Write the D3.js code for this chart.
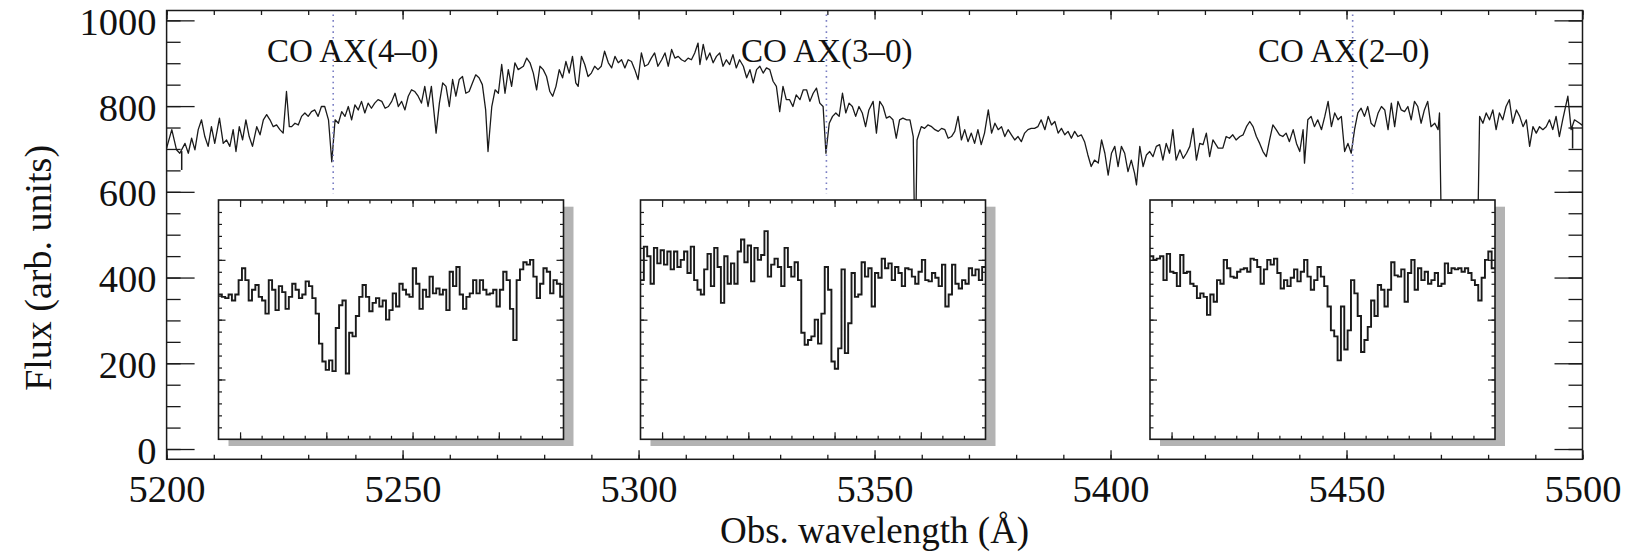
<!DOCTYPE html>
<html>
<head>
<meta charset="utf-8">
<script src="https://cdn.jsdelivr.net/npm/d3@7"></script>
<style>
  html, body { margin: 0; padding: 0; background: #fff; }
  svg { display: block; }
  text { font-family: "Liberation Serif", "Times New Roman", serif; fill: #111; }
</style>
</head>
<body>
<svg id="chart" width="1633" height="552"></svg>
<script>
// ---- Data -----------------------------------------------------------------
// Observed spectrum: [wavelength (Å), flux (arb. units)]
const spectrum = [
  [5200.0,702],[5201.1,745],[5202.1,698],[5202.8,690],[5203.9,713],[5204.6,690],[5205.3,725],[5206.0,698],
  [5206.7,745],[5207.4,768],[5208.1,729],[5208.8,706],[5209.5,752],[5210.2,713],[5211.2,772],[5212.0,713],
  [5212.7,721],[5213.4,706],[5214.1,745],[5214.7,694],[5215.4,752],[5216.1,721],[5216.8,768],[5217.5,729],
  [5218.2,706],[5219.1,752],[5219.8,733],[5220.5,768],[5221.2,780],[5221.9,768],[5222.6,752],[5223.3,756],
  [5224.0,745],[5224.7,737],[5225.4,834],[5226.0,752],[5226.5,752],[5227.2,760],[5227.9,756],[5228.6,776],
  [5229.3,784],[5230.0,776],[5230.7,787],[5231.4,791],[5232.1,776],[5232.8,799],[5233.5,799],[5234.3,768],
  [5235.0,670],[5235.7,768],[5236.4,760],[5237.1,787],[5237.8,776],[5238.5,799],[5239.2,768],[5239.9,803],
  [5240.6,791],[5241.3,811],[5242.0,784],[5242.7,807],[5243.4,795],[5244.1,807],[5244.8,815],[5245.6,811],
  [5246.3,795],[5247.0,799],[5247.7,811],[5248.4,830],[5249.1,799],[5249.8,811],[5250.5,791],[5251.2,823],
  [5251.9,838],[5252.6,834],[5253.3,823],[5254.0,807],[5254.7,846],[5255.4,799],[5256.1,846],[5257.1,737],
  [5257.8,807],[5258.5,854],[5259.2,846],[5259.9,799],[5260.6,862],[5261.3,823],[5262.0,862],[5262.7,869],
  [5263.4,830],[5264.1,834],[5264.8,854],[5265.5,873],[5266.2,866],[5266.9,850],[5267.6,791],[5268.1,694],
  [5268.9,799],[5269.6,838],[5270.3,830],[5271.0,897],[5271.7,830],[5272.4,885],[5273.1,846],[5273.8,901],
  [5274.5,885],
  [5275.6,893],[5276.3,912],[5277.0,901],[5277.7,877],[5278.4,838],[5279.1,893],[5279.8,885],[5280.5,869],
  [5281.2,834],[5281.8,823],[5282.5,846],[5283.2,885],[5283.9,866],[5284.6,904],[5285.3,877],[5286.0,916],
  [5286.7,854],[5287.2,846],[5287.9,916],[5288.6,897],[5289.3,869],[5290.0,877],[5290.7,893],[5291.4,885],
  [5292.1,893],[5292.8,928],[5293.6,901],[5294.3,889],[5295.0,916],[5295.7,901],[5296.4,908],[5297.1,889],
  [5297.8,908],[5298.5,904],[5299.2,885],[5299.9,862],[5300.6,924],[5301.3,893],[5302.0,897],[5302.7,912],
  [5303.4,924],[5304.1,893],[5304.9,908],[5305.6,924],[5306.3,893],[5307.0,932],[5307.7,912],[5308.4,916],
  [5309.1,908],[5309.8,904],[5310.5,912],[5311.2,908],[5311.9,924],[5312.6,947],[5313.0,897],[5313.7,944],
  [5314.4,908],[5315.1,924],[5315.8,901],[5316.5,916],[5317.2,924],[5317.9,893],[5318.6,908],[5319.3,897],
  [5320.0,920],[5320.7,889],[5321.4,908],[5322.2,893],[5322.9,866],[5323.6,885],[5324.3,854],[5325.0,885],
  [5325.7,893],[5326.4,877],[5327.1,889],[5327.8,885],[5328.5,858],[5329.2,846],[5329.9,787],[5330.6,846],
  [5331.3,815],[5332.0,815],[5332.7,799],[5333.4,826],[5334.2,815],[5334.9,838],[5335.6,838],[5336.3,811],
  [5337.0,830],[5337.7,842],[5338.4,807],[5339.1,799],[5339.7,690],[5340.4,760],[5341.1,776],[5341.8,784],
  [5342.5,776],[5343.2,830],[5343.9,784],[5344.6,807],[5345.3,799],[5346.0,776],[5346.7,799],[5347.4,784],
  [5348.1,752],[5348.8,791],
  [5349.7,811],[5350.4,737],[5351.1,811],[5351.8,799],[5352.5,772],[5353.2,776],[5353.9,768],[5354.6,725],
  [5355.3,768],[5356.0,772],[5356.8,768],[5357.5,768],[5358.2,729],[5358.6,420],[5359.0,721],[5359.9,752],
  [5360.6,748],[5361.3,756],[5362.1,752],[5362.8,745],[5363.5,741],[5364.2,748],[5364.9,745],[5365.6,725],
  [5366.3,729],[5367.0,741],[5367.7,776],[5368.4,721],[5369.1,745],[5369.8,717],[5370.5,737],[5371.2,713],
  [5371.9,745],[5372.6,710],[5373.3,737],[5374.1,791],[5374.8,737],[5375.5,760],[5376.2,745],[5376.9,752],
  [5377.6,729],[5378.3,745],[5379.0,733],[5379.7,721],[5380.4,729],[5381.1,717],[5381.8,737],[5382.5,745],
  [5383.2,748],[5383.9,748],[5384.6,752],[5385.3,768],[5386.1,745],[5386.8,776],[5387.5,756],[5388.2,764],
  [5388.9,737],[5389.6,748],[5390.3,733],[5391.0,741],[5391.7,725],[5392.4,741],[5393.1,729],[5393.8,733],
  [5394.5,717],[5395.2,686],[5395.9,659],[5396.6,674],[5397.4,667],[5398.1,721],[5398.8,690],[5399.5,639],
  [5400.2,690],[5400.9,706],[5401.6,659],[5402.3,706],[5403.0,690],[5403.7,647],[5404.4,674],[5405.1,643],
  [5405.5,616],[5406.2,706],[5406.9,659],[5407.6,686],[5408.3,694],[5409.0,682],[5409.7,706],[5410.4,710],
  [5411.1,674],[5411.8,713],[5412.5,690],[5413.2,745],[5413.9,674],[5414.7,698],[5415.4,678],[5416.1,690],
  [5416.8,706],[5417.5,748],[5418.2,674],[5418.9,713],[5419.6,710],[5420.3,737],[5421.0,682],[5421.7,721],
  [5422.8,702],
  [5423.8,702],[5424.5,729],[5425.2,725],[5425.9,733],[5426.6,721],[5427.4,729],[5428.1,733],[5428.8,752],
  [5429.5,764],[5430.2,752],[5430.9,729],[5431.6,713],[5432.3,694],[5433.0,682],[5433.7,721],[5434.4,756],
  [5435.1,745],[5435.8,733],[5436.5,729],[5437.2,737],[5437.9,717],[5438.7,745],[5439.4,713],[5440.1,694],
  [5440.8,745],[5441.1,667],[5441.8,768],[5442.5,776],[5443.2,752],[5443.9,768],[5444.7,745],[5445.4,776],
  [5446.1,811],[5446.8,752],[5447.5,784],[5448.2,768],[5448.9,776],[5449.6,694],[5450.3,713],[5451.0,690],
  [5451.7,745],[5452.4,784],[5453.1,795],[5453.8,776],[5454.5,799],[5455.2,760],[5455.9,752],[5456.7,784],
  [5457.4,799],[5458.1,791],[5458.8,745],[5459.5,807],[5460.2,752],[5460.9,811],[5461.6,791],[5462.3,787],
  [5463.0,799],[5463.7,768],[5464.4,811],[5465.1,799],[5465.8,760],[5466.5,791],[5467.2,811],[5467.9,752],
  [5468.7,760],[5469.4,745],[5469.7,784],[5470.4,300],[5473.6,320],[5477.5,300],[5478.2,776],[5478.9,760],
  [5479.6,784],[5480.3,768],[5481.0,791],[5481.7,745],[5482.4,784],[5483.1,768],[5483.8,799],[5484.5,815],
  [5485.2,760],[5486.0,791],[5486.7,776],[5487.4,752],[5488.1,768],[5488.8,706],[5489.5,752],[5490.2,737],
  [5490.9,752],[5491.6,745],[5492.3,752],[5493.0,768],[5493.7,745],[5494.4,776],[5495.1,729],[5495.8,768],
  [5496.9,823],[5497.6,745],[5498.3,768],[5499.4,760],[5500.0,755]
];

// Representative error bars: [wavelength, low, high]
const errorBars = [[5203.2, 651, 695], [5497.9, 701, 751]];

const waveMajor = [5200, 5250, 5300, 5350, 5400, 5450, 5500];
const waveMinor = d3.range(5200, 5501, 10);
const fluxMajor = [0, 200, 400, 600, 800, 1000];
const fluxMinor = d3.range(0, 1001, 50);

// CO A-X band heads
const bandLabels = ["CO AX(4\u20130)", "CO AX(3\u20130)", "CO AX(2\u20130)"];
const bandWaves = [5235.3, 5339.8, 5451.3];

// Zoomed windows (Å) around each band head and the normalised flux in them
const insetRanges = [[5231.5, 5239.5], [5335.5, 5343.5], [5447.5, 5455.5]];
const insetFlux4 = [
  1.21,1.19,1.18,1.21,1.16,1.21,1.33,1.43,1.33,1.16,1.25,1.29,1.19,1.16,1.05,1.33,1.25,1.08,1.28,1.23,
  1.09,1.19,1.30,1.25,1.18,1.21,1.32,1.28,1.18,1.05,0.80,0.65,0.58,0.66,0.57,0.93,1.12,1.16,0.55,0.89,
  0.86,1.03,1.19,1.29,1.19,1.07,1.14,1.18,1.11,1.16,1.00,1.08,1.22,1.11,1.30,1.25,1.21,1.19,1.43,1.30,
  1.09,1.25,1.19,1.36,1.22,1.26,1.21,1.25,1.08,1.40,1.28,1.44,1.21,1.09,1.19,1.22,1.33,1.22,1.33,1.25,
  1.21,1.22,1.25,1.11,1.25,1.40,1.33,1.09,0.83,1.33,1.42,1.48,1.46,1.50,1.36,1.18,1.30,1.43,1.40,1.22,
  1.33,1.30,1.19
];
const insetFlux3 = [
  1.33,1.61,1.53,1.30,1.60,1.47,1.58,1.46,1.57,1.42,1.57,1.44,1.50,1.57,1.39,1.61,1.33,1.25,1.21,1.42,
  1.55,1.28,1.60,1.44,1.14,1.53,1.30,1.47,1.30,1.57,1.67,1.48,1.62,1.32,1.60,1.50,1.54,1.74,1.36,1.46,
  1.51,1.44,1.28,1.60,1.44,1.36,1.48,1.33,0.89,0.79,0.83,0.86,1.00,0.80,1.05,1.44,1.25,0.65,0.59,0.76,
  1.42,0.72,0.97,1.39,1.19,1.21,1.48,1.36,1.43,1.11,1.39,1.35,1.51,1.43,1.47,1.33,1.44,1.39,1.28,1.43,
  1.42,1.36,1.30,1.40,1.50,1.33,1.32,1.39,1.35,1.28,1.46,1.11,1.21,1.46,1.30,1.26,1.33,1.30,1.43,1.37,
  1.42,1.33,1.44
];
const insetFlux2 = [
  1.53,1.50,1.51,1.53,1.33,1.55,1.40,1.39,1.28,1.54,1.39,1.40,1.30,1.28,1.18,1.22,1.19,1.04,1.21,1.15,
  1.33,1.30,1.50,1.43,1.36,1.35,1.40,1.42,1.43,1.40,1.51,1.50,1.44,1.30,1.42,1.50,1.46,1.51,1.39,1.26,
  1.33,1.28,1.35,1.42,1.32,1.40,1.50,1.36,1.25,1.33,1.44,1.36,1.28,1.11,0.91,0.86,0.66,1.11,0.75,0.91,
  1.33,1.22,1.03,0.73,0.83,0.94,1.16,1.03,1.29,1.25,1.11,1.25,1.48,1.37,1.36,1.42,1.15,1.39,1.50,1.25,
  1.43,1.33,1.40,1.30,1.33,1.39,1.28,1.30,1.47,1.39,1.43,1.42,1.43,1.40,1.43,1.39,1.33,1.29,1.16,1.35,
  1.50,1.57,1.43
];
const insetSeries = [insetFlux4, insetFlux3, insetFlux2];

// ---- Layout ---------------------------------------------------------------
const svg = d3.select("#chart");
const plot = { left: 166.6, right: 1582.5, top: 10.5, bottom: 459.3 };
const x = d3.scaleLinear().domain([5200, 5500]).range([plot.left, plot.right]);
const y = d3.scaleLinear().domain([-24, 1023]).range([plot.bottom, plot.top]);

const insetBoxes = [218.5, 640.5, 1150].map(l => ({ left: l, top: 200, width: 345, height: 239.3 }));
const labelStarts = [267, 741, 1258];
const labelBaseline = 61.5;

const ink = "#1a1a1a";
const tickFont = 38.5;

// ---- Main axes ------------------------------------------------------------
function axisGroup(axis, tx, ty, cls) {
  const g = svg.append("g").attr("class", cls).attr("transform", `translate(${tx},${ty})`).call(axis);
  g.select(".domain").remove();
  g.selectAll("line").attr("stroke", ink).attr("stroke-width", 1.3);
  return g;
}
const xTickMaj = 9, xTickMin = 4.5, yTickMaj = 28, yTickMin = 14;

// bottom
const gb = axisGroup(d3.axisBottom(x).tickValues(waveMajor).tickSize(-xTickMaj).tickPadding(15).tickFormat(d3.format("d")),
  0, plot.bottom, "x-major");
gb.selectAll("text").attr("font-size", tickFont).attr("fill", ink).attr("dy", "0.71em");
axisGroup(d3.axisBottom(x).tickValues(waveMinor).tickSize(-xTickMin).tickFormat(""), 0, plot.bottom, "x-minor");
// top
axisGroup(d3.axisTop(x).tickValues(waveMajor).tickSize(-xTickMaj).tickFormat(""), 0, plot.top, "x2-major");
axisGroup(d3.axisTop(x).tickValues(waveMinor).tickSize(-xTickMin).tickFormat(""), 0, plot.top, "x2-minor");
// left
const gl = axisGroup(d3.axisLeft(y).tickValues(fluxMajor).tickSize(-yTickMaj).tickPadding(10).tickFormat(d3.format("d")),
  plot.left, 0, "y-major");
gl.selectAll("text").attr("font-size", tickFont).attr("fill", ink).attr("dy", null).attr("y", 14);
axisGroup(d3.axisLeft(y).tickValues(fluxMinor).tickSize(-yTickMin).tickFormat(""), plot.left, 0, "y-minor");
// right
axisGroup(d3.axisRight(y).tickValues(fluxMajor).tickSize(-yTickMaj).tickFormat(""), plot.right, 0, "y2-major");
axisGroup(d3.axisRight(y).tickValues(fluxMinor).tickSize(-yTickMin).tickFormat(""), plot.right, 0, "y2-minor");

// frame
svg.append("rect")
  .attr("x", plot.left).attr("y", plot.top)
  .attr("width", plot.right - plot.left).attr("height", plot.bottom - plot.top)
  .attr("fill", "none").attr("stroke", ink).attr("stroke-width", 1.5);

// ---- Spectrum ---------------------------------------------------------------
const line = d3.line().x(d => x(d[0])).y(d => y(d[1]));
svg.append("path").datum(spectrum)
  .attr("d", line).attr("fill", "none").attr("stroke", ink)
  .attr("stroke-width", 1.3).attr("stroke-linejoin", "round");

// error bars
svg.append("g").selectAll("line").data(errorBars).join("line")
  .attr("x1", d => x(d[0])).attr("x2", d => x(d[0]))
  .attr("y1", d => y(d[1])).attr("y2", d => y(d[2]))
  .attr("stroke", ink).attr("stroke-width", 1.5);

// band head markers and labels
svg.append("g").selectAll("line").data(bandWaves).join("line")
  .attr("x1", d => x(d)).attr("x2", d => x(d))
  .attr("y1", plot.top + 4).attr("y2", 194)
  .attr("stroke", "#7b7fc4").attr("stroke-width", 1.6)
  .attr("stroke-dasharray", "1.6,4");

svg.append("g").selectAll("text").data(bandLabels).join("text")
  .attr("x", (d, i) => labelStarts[i]).attr("y", labelBaseline)
  .attr("font-size", 33).attr("fill", ink)
  .text(d => d);

// ---- Insets -----------------------------------------------------------------
insetBoxes.forEach((box, i) => {
  const [w0, w1] = insetRanges[i];
  const vals = insetSeries[i];
  const ix = d3.scaleLinear().domain([w0, w1]).range([box.left, box.left + box.width]);
  const iy = d3.scaleLinear().domain([0, 2]).range([box.top + box.height, box.top]);
  const g = svg.append("g").attr("class", "inset");

  // drop shadow
  g.append("rect")
    .attr("x", box.left + 10).attr("y", box.top + 6.7)
    .attr("width", box.width).attr("height", box.height)
    .attr("fill", "#b3b3b3");
  g.append("rect")
    .attr("x", box.left).attr("y", box.top)
    .attr("width", box.width).attr("height", box.height)
    .attr("fill", "#fff");

  // histogram of the spectrum
  const step = (w1 - w0) / vals.length;
  const bins = vals.map((v, k) => [w0 + k * step, v]);
  bins.push([w1, vals[vals.length - 1]]);
  g.append("path").datum(bins)
    .attr("d", d3.line().curve(d3.curveStepAfter).x(d => ix(d[0])).y(d => iy(d[1])))
    .attr("fill", "none").attr("stroke", ink).attr("stroke-width", 1.9);

  // ticks (no labels)
  const xMaj = d3.range(Math.ceil(w0 / 2) * 2, w1, 2);
  const xMin = d3.range(w0 + 0.5, w1, 0.5);
  const yMaj = [0.5, 1.0, 1.5];
  const yMin = d3.range(0.1, 2.0, 0.1);
  const addAxis = (axis, tx, ty) => {
    const a = g.append("g").attr("transform", `translate(${tx},${ty})`).call(axis);
    a.select(".domain").remove();
    a.selectAll("line").attr("stroke", ink).attr("stroke-width", 1.2);
  };
  addAxis(d3.axisBottom(ix).tickValues(xMin).tickSize(-3.5).tickFormat(""), 0, box.top + box.height);
  addAxis(d3.axisBottom(ix).tickValues(xMaj).tickSize(-7).tickFormat(""), 0, box.top + box.height);
  addAxis(d3.axisTop(ix).tickValues(xMin).tickSize(-3.5).tickFormat(""), 0, box.top);
  addAxis(d3.axisTop(ix).tickValues(xMaj).tickSize(-7).tickFormat(""), 0, box.top);
  addAxis(d3.axisLeft(iy).tickValues(yMin).tickSize(-3.5).tickFormat(""), box.left, 0);
  addAxis(d3.axisLeft(iy).tickValues(yMaj).tickSize(-7).tickFormat(""), box.left, 0);
  addAxis(d3.axisRight(iy).tickValues(yMin).tickSize(-3.5).tickFormat(""), box.left + box.width, 0);
  addAxis(d3.axisRight(iy).tickValues(yMaj).tickSize(-7).tickFormat(""), box.left + box.width, 0);

  g.append("rect")
    .attr("x", box.left).attr("y", box.top)
    .attr("width", box.width).attr("height", box.height)
    .attr("fill", "none").attr("stroke", ink).attr("stroke-width", 1.6);
});

// ---- Axis titles --------------------------------------------------------------
svg.append("text")
  .attr("x", (plot.left + plot.right) / 2).attr("y", 543)
  .attr("text-anchor", "middle").attr("font-size", 37).attr("fill", ink)
  .text("Obs. wavelength (\u00C5)");

svg.append("text")
  .attr("transform", `translate(51,${(plot.top + plot.bottom) / 2 + 33}) rotate(-90)`)
  .attr("text-anchor", "middle").attr("font-size", 38).attr("fill", ink)
  .text("Flux (arb. units)");
</script>
</body>
</html>
